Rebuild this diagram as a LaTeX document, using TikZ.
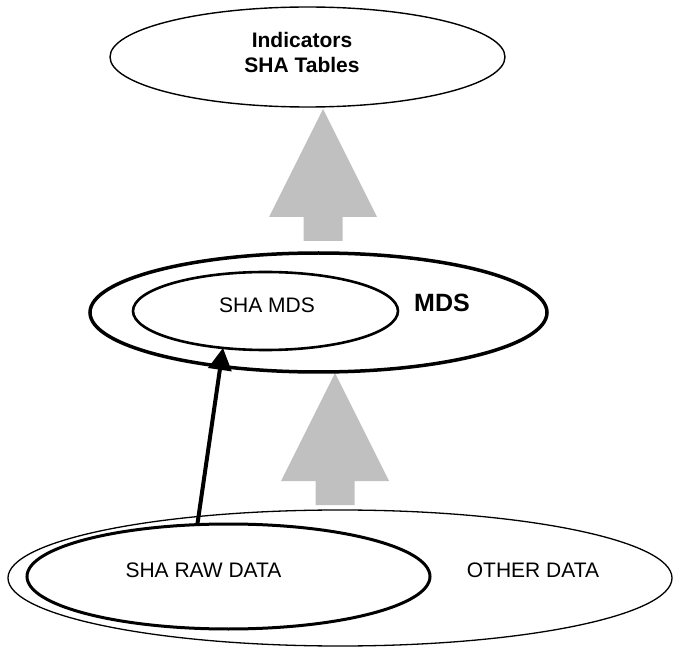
\documentclass[tikz,border=0pt]{standalone}
\usepackage{fontspec}
\setmainfont{Liberation Sans}
\usetikzlibrary{shapes.geometric,arrows.meta}
\definecolor{silver}{HTML}{C0C0C0}
\tikzset{
  oval/.style={ellipse,draw,inner sep=0pt,outer sep=0pt},
  thinoval/.style={oval,line width=1.4pt},
  thickoval/.style={oval,line width=3pt},
  lbl/.style={inner sep=0pt,font=\fontsize{21}{24.5}\selectfont},
  boldlbl/.style={inner sep=0pt,font=\fontsize{21}{24.5}\selectfont\bfseries},
  feed/.style={line width=4pt,-{Triangle[width=23pt,length=22pt]}},
  blockup/.pic={
    \fill[silver] (0,0) -- (-54,108) -- (-19.5,108) -- (-19.5,132)
      -- (19.5,132) -- (19.5,108) -- (54,108) -- cycle;
  }
}
\begin{document}
\begin{tikzpicture}[x=1pt,y=-1pt]
\useasboundingbox (0,0) rectangle (673,647);

% wide block arrows between the levels
\pic at (323,109) {blockup};
\pic at (335,373) {blockup};

% top level
\node[thinoval,minimum width=395pt,minimum height=100pt] (top) at (307.5,57) {};
\node[boldlbl,align=center] (toplbl) at (302,52.6) {Indicators\\SHA Tables};

% minimum data set
\node[thickoval,line width=3.5pt,minimum width=457pt,minimum height=119pt] (mds) at (318.5,312.5) {};
\node[thickoval,line width=2.6pt,minimum width=265pt,minimum height=78pt] (shamds) at (265.5,311) {};
\node[lbl] (shamdslbl) at (267,305) {SHA MDS};
\node[inner sep=0pt,font=\fontsize{25}{28}\selectfont\bfseries] (mdslbl) at (442,303) {MDS};

% raw data sources
\node[thinoval,line width=1.3pt,minimum width=664pt,minimum height=136pt] (other) at (340,578) {};
\node[thickoval,minimum width=403pt,minimum height=105pt] (raw) at (228.5,576.5) {};
\node[lbl] (rawlbl) at (203.5,570) {SHA RAW DATA};
\node[lbl] (otherlbl) at (533,570) {OTHER DATA};

% feed from the raw data into the SHA MDS
\draw[feed] (raw.121) -- (shamds.-139);
\end{tikzpicture}
\end{document}
